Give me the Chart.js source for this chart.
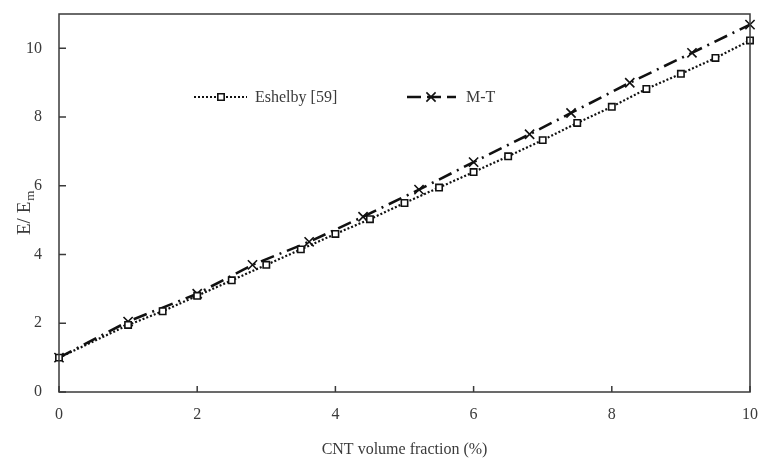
<!DOCTYPE html>
<html>
<head>
<meta charset="utf-8">
<script src="https://cdn.jsdelivr.net/npm/chart.js@4/dist/chart.umd.min.js"></script>
<style>
    html, body { margin: 0; padding: 0; background: #fff; }
    #wrap { width: 761px; height: 463px; }
</style>
</head>
<body>
<div id="wrap"><canvas id="modulusChart" width="761" height="463"></canvas></div>
<script>
var eshelbyX = [0, 1, 1.5, 2, 2.5, 3, 3.5, 4, 4.5, 5, 5.5, 6, 6.5, 7, 7.5, 8, 8.5, 9, 9.5, 10];
var eshelbyY = [1.0, 1.95, 2.35, 2.8, 3.25, 3.7, 4.15, 4.6, 5.03, 5.5, 5.95, 6.4, 6.86, 7.33, 7.83, 8.3, 8.82, 9.26, 9.72, 10.23];
var mtX = [0, 1, 2, 2.8, 3.62, 4.4, 5.21, 6.0, 6.81, 7.41, 8.26, 9.16, 10];
var mtY = [1.0, 2.05, 2.86, 3.7, 4.37, 5.1, 5.89, 6.69, 7.5, 8.12, 9.0, 9.87, 10.69];
var xTicks = [0, 2, 4, 6, 8, 10];
var yTicks = [0, 2, 4, 6, 8, 10];
var seriesNames = ['Eshelby [59]', 'M-T'];

var FONT = '"Liberation Serif", "Times New Roman", serif';
var INK = '#3a3a3a';

function pairs(xs, ys) {
    return xs.map(function (x, i) { return { x: x, y: ys[i] }; });
}

// inside ticks + frame around the plot
var framePlugin = {
    id: 'frame',
    afterDraw: function (chart) {
        var ctx = chart.ctx, a = chart.chartArea;
        var xs = chart.scales.x, ys = chart.scales.y;
        ctx.save();
        ctx.strokeStyle = INK;
        ctx.lineWidth = 1.5;
        ctx.strokeRect(a.left, a.top, a.right - a.left, a.bottom - a.top);
        ctx.beginPath();
        xTicks.forEach(function (v) {
            var px = xs.getPixelForValue(v);
            ctx.moveTo(px, a.bottom);
            ctx.lineTo(px, a.bottom - 6);
        });
        yTicks.forEach(function (v) {
            var py = ys.getPixelForValue(v);
            ctx.moveTo(a.left, py);
            ctx.lineTo(a.left + 7, py);
        });
        ctx.stroke();

        // y title with subscript
        ctx.translate(22, 207);
        ctx.rotate(-Math.PI / 2);
        ctx.fillStyle = INK;
        ctx.textBaseline = 'alphabetic';
        ctx.font = '19px ' + FONT;
        var main = 'E/ E';
        var w1 = ctx.measureText(main).width;
        var start = -28;
        ctx.fillText(main, start, 8);
        ctx.font = '13px ' + FONT;
        ctx.fillText('m', start + w1 + 1, 12);
        ctx.restore();
    }
};

var legendPlugin = {
    id: 'inlineLegend',
    afterDraw: function (chart) {
        var ctx = chart.ctx;
        var items = [
            { ds: chart.data.datasets[0], x0: 194, x1: 247, mx: 221, tx: 255 },
            { ds: chart.data.datasets[1], x0: 407, x1: 456, mx: 431, tx: 466 }
        ];
        var y = 97;
        ctx.save();
        items.forEach(function (it) {
            var ds = it.ds;
            ctx.strokeStyle = '#111';
            ctx.lineWidth = ds.borderWidth;
            ctx.setLineDash(ds.legendDash || ds.borderDash);
            ctx.beginPath();
            ctx.moveTo(it.x0, y);
            ctx.lineTo(it.x1, y);
            ctx.stroke();
            ctx.setLineDash([]);
            ctx.fillStyle = '#fff';
            ctx.strokeStyle = '#111';
            ctx.lineWidth = ds.pointBorderWidth;
            Chart.helpers.drawPoint(ctx, {
                pointStyle: ds.pointStyle,
                radius: ds.pointRadius,
                borderWidth: ds.pointBorderWidth,
                rotation: 0
            }, it.mx, y);
            ctx.fillStyle = INK;
            ctx.font = '16px ' + FONT;
            ctx.textBaseline = 'middle';
            ctx.fillText(ds.label, it.tx, y + 1);
        });
        ctx.restore();
    }
};

document.addEventListener('DOMContentLoaded', function () {
    var canvas = document.getElementById('modulusChart');
    new Chart(canvas, {
        type: 'line',
        data: {
            datasets: [
                {
                    label: seriesNames[0],
                    data: pairs(eshelbyX, eshelbyY),
                    borderColor: '#111',
                    borderWidth: 2.2,
                    borderDash: [2, 2],
                    pointStyle: 'rect',
                    pointRadius: 4.5,
                    pointBorderWidth: 1.6,
                    pointBackgroundColor: '#fff',
                    pointBorderColor: '#111',
                    tension: 0,
                    clip: false
                },
                {
                    label: seriesNames[1],
                    data: pairs(mtX, mtY),
                    borderColor: '#111',
                    borderWidth: 2.6,
                    borderDash: [14, 6, 2, 6],
                    legendDash: [14, 6],
                    pointStyle: 'crossRot',
                    pointRadius: 6.5,
                    pointBorderWidth: 1.6,
                    pointBackgroundColor: '#fff',
                    pointBorderColor: '#111',
                    tension: 0,
                    clip: false
                }
            ]
        },
        options: {
            responsive: false,
            animation: false,
            layout: { padding: { left: 0, top: 14, right: 11, bottom: 0 } },
            plugins: { legend: { display: false }, tooltip: { enabled: false } },
            scales: {
                x: {
                    type: 'linear',
                    min: 0,
                    max: 10,
                    afterFit: function (s) {
                        s.height = 71;
                        s.paddingLeft = 0;
                        s.paddingRight = 0;
                    },
                    afterBuildTicks: function (s) {
                        s.ticks = xTicks.map(function (v) { return { value: v }; });
                    },
                    grid: { display: false, drawTicks: false },
                    border: { display: false },
                    ticks: { padding: 13, color: INK, font: { family: FONT, size: 16 }, maxRotation: 0 },
                    title: {
                        display: true,
                        text: 'CNT volume fraction (%)',
                        color: INK,
                        font: { family: FONT, size: 16 },
                        padding: { top: 14 }
                    }
                },
                y: {
                    type: 'linear',
                    min: 0,
                    max: 11,
                    afterFit: function (s) {
                        s.width = 59;
                        s.paddingTop = 0;
                        s.paddingBottom = 0;
                    },
                    afterBuildTicks: function (s) {
                        s.ticks = yTicks.map(function (v) { return { value: v }; });
                    },
                    grid: { display: false, drawTicks: false },
                    border: { display: false },
                    ticks: { padding: 17, color: INK, font: { family: FONT, size: 16 } }
                }
            }
        },
        plugins: [framePlugin, legendPlugin]
    });
});
</script>
</body>
</html>
